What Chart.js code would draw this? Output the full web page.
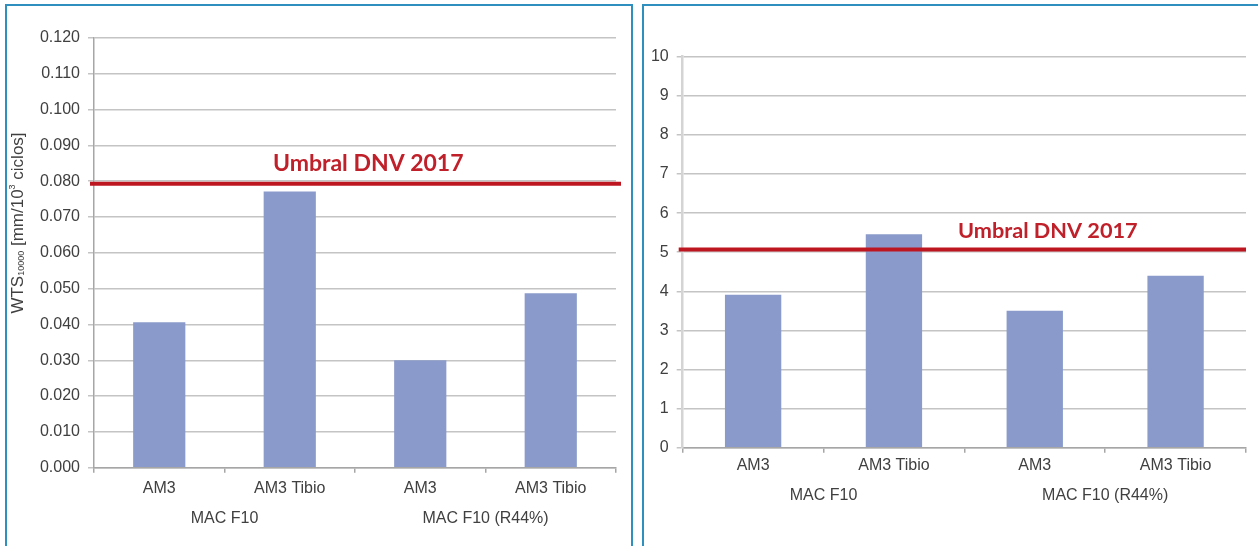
<!DOCTYPE html>
<html>
<head>
<meta charset="utf-8">
<script src="https://cdn.jsdelivr.net/npm/chart.js@4.4.1/dist/chart.umd.min.js"></script>
<style>
  html, body { margin: 0; padding: 0; background: #ffffff; width: 1258px; height: 546px; overflow: hidden; }
  .panel { position: absolute; box-sizing: border-box; border: 2px solid #2F90C0; background: #fff; }
  canvas { position: absolute; }
</style>
</head>
<body>
<div class="panel" style="left:5px; top:4px; width:628px; height:600px;"></div>
<div class="panel" style="left:642px; top:4px; width:700px; height:600px;"></div>
<canvas id="c1" width="620" height="539" style="left:8px; top:7px;"></canvas>
<canvas id="c2" width="613" height="539" style="left:645px; top:7px;"></canvas>
<script>
// ---- Data ----
const categories = ['AM3', 'AM3 Tibio', 'AM3', 'AM3 Tibio'];
const groups = ['MAC F10', 'MAC F10 (R44%)'];
const wtsValues = [0.0406, 0.0771, 0.0300, 0.0487];
const wtsThreshold = 0.0793;
const wtsTickLabels = ['0.000','0.010','0.020','0.030','0.040','0.050','0.060','0.070','0.080','0.090','0.100','0.110','0.120'];
const rightValues = [3.91, 5.46, 3.50, 4.40];
const rightThreshold = 5.07;
const rightTickLabels = ['0','1','2','3','4','5','6','7','8','9','10'];
const thresholdLabel = 'Umbral DNV 2017';

const BAR = '#8A9BCB';
const RED = '#BE1620';
const TXT = '#404040';
const FONT = "'Liberation Sans', Arial, sans-serif";

const thresholdPlugin = {
  id: 'threshold',
  afterDatasetsDraw(chart, args, opts) {
    const y = chart.scales.y.getPixelForValue(opts.value);
    const ca = chart.chartArea;
    const ctx = chart.ctx;
    ctx.save();
    ctx.strokeStyle = RED;
    ctx.lineWidth = 4;
    ctx.beginPath();
    ctx.moveTo(ca.left - opts.extL, y);
    ctx.lineTo(ca.right + opts.extR, y);
    ctx.stroke();
    ctx.fillStyle = '#C0202A';
    ctx.font = 'bold ' + opts.size + "px Lato, 'Open Sans', sans-serif";
    ctx.textBaseline = 'alphabetic';
    ctx.textAlign = 'left';
    ctx.fillText(opts.text, opts.textX, y - opts.gap);
    ctx.restore();
  }
};

const yTitlePlugin = {
  id: 'ytitle',
  afterDraw(chart, args, opts) {
    if (!opts.show) return;
    const ctx = chart.ctx;
    ctx.save();
    ctx.translate(opts.x, opts.y);
    ctx.rotate(-Math.PI / 2);
    ctx.fillStyle = TXT;
    ctx.textBaseline = 'middle';
    const parts = [
      { t: 'WTS', s: 17, dy: 0 },
      { t: '10000', s: 9, dy: 4 },
      { t: ' [mm/10', s: 17, dy: 0 },
      { t: '3', s: 9, dy: -5 },
      { t: ' ciclos]', s: 17, dy: 0 }
    ];
    let total = 0;
    parts.forEach(p => { ctx.font = p.s + 'px ' + FONT; p.w = ctx.measureText(p.t).width; total += p.w; });
    let x = -total / 2;
    parts.forEach(p => { ctx.font = p.s + 'px ' + FONT; ctx.fillText(p.t, x, p.dy); x += p.w; });
    ctx.restore();
  }
};

function makeChart(id, values, tickLabels, max, step, cfg) {
  return new Chart(document.getElementById(id), {
    type: 'bar',
    data: {
      labels: categories,
      datasets: [{ data: values, backgroundColor: BAR, borderWidth: 0, barPercentage: 0.4, categoryPercentage: 1.0 }]
    },
    options: {
      responsive: false,
      animation: false,
      events: [],
      layout: { padding: { left: 0, top: cfg.top, right: cfg.right, bottom: 0 } },
      plugins: {
        legend: { display: false },
        tooltip: { enabled: false },
        threshold: { value: cfg.threshold, extL: cfg.extL, extR: cfg.extR, text: thresholdLabel, size: cfg.tsize, textX: cfg.textX, gap: cfg.gap },
        ytitle: { show: cfg.ytitle, x: 10, y: 216 }
      },
      scales: {
        x: {
          type: 'category',
          position: 'bottom',
          offset: true,
          grid: { drawOnChartArea: false, drawTicks: true, tickLength: 5, color: '#A6A6A6', lineWidth: 1.5, offset: true },
          border: { display: true, color: '#A6A6A6', width: 1.5 },
          ticks: { color: TXT, font: { family: FONT, size: 16 }, padding: cfg.xpad, maxRotation: 0, autoSkip: false },
          afterFit(s) { s.height = 26; }
        },
        x2: {
          type: 'category',
          position: 'bottom',
          labels: groups,
          offset: true,
          grid: { display: false, drawTicks: false },
          border: { display: false },
          ticks: { color: TXT, font: { family: FONT, size: 16 }, padding: cfg.x2pad, maxRotation: 0, autoSkip: false },
          afterFit(s) { s.height = cfg.x2h; }
        },
        y: {
          min: 0, max: max,
          grid: { color: '#C4C4C4', lineWidth: 1.5, drawTicks: true, tickLength: 6 },
          border: { display: true, color: cfg.axisColor, width: cfg.axisWidth },
          ticks: {
            stepSize: step,
            color: TXT,
            font: { family: FONT, size: 16 },
            padding: cfg.ypad,
            callback: (v, i) => tickLabels[i]
          },
          afterFit(s) { s.width = cfg.yw; }
        }
      }
    },
    plugins: [thresholdPlugin, yTitlePlugin]
  });
}

makeChart('c1', wtsValues, wtsTickLabels, 0.12, 0.01, {
  top: 31, right: 12, yw: 86, x2h: 52.3, xpad: 6, x2pad: 15,
  threshold: wtsThreshold, extL: 4, extR: 5, tsize: 23, textX: 265, gap: 13,
  ytitle: true, axisColor: '#A6A6A6', axisWidth: 1.5, ypad: 8
});
makeChart('c2', rightValues, rightTickLabels, 10, 1, {
  top: 49.7, right: 12, yw: 37.7, x2h: 72.3, xpad: 3, x2pad: 12,
  threshold: rightThreshold, extL: 4, extR: 0, tsize: 21.7, textX: 313, gap: 11,
  ytitle: false, axisColor: '#D4D4D4', axisWidth: 2.5, ypad: 8
});
</script>
</body>
</html>
